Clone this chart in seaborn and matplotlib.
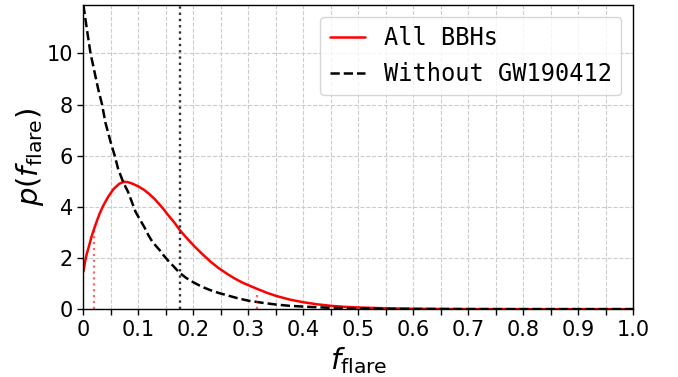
import matplotlib
matplotlib.use("Agg")
import matplotlib.pyplot as plt
import matplotlib.ticker as mticker
import seaborn as sns
import pandas as pd

# values
f_all = [0.0, 0.003, 0.006, 0.01, 0.015, 0.02, 0.025, 0.03, 0.035, 0.04, 0.045,
         0.05, 0.055, 0.06, 0.065, 0.07, 0.075, 0.08, 0.085, 0.09, 0.1, 0.11,
         0.12, 0.13, 0.139, 0.147, 0.154, 0.165, 0.175, 0.187, 0.2, 0.215,
         0.23, 0.245, 0.26, 0.275, 0.29, 0.315, 0.335, 0.35, 0.376, 0.4,
         0.425, 0.45, 0.475, 0.5, 0.55, 0.6, 0.65, 0.7, 0.8, 1.0]
p_all = [1.47, 1.85, 2.15, 2.45, 2.85, 3.17, 3.48, 3.76, 4.0, 4.2, 4.39,
         4.55, 4.7, 4.8, 4.9, 4.95, 4.98, 4.97, 4.94, 4.9, 4.8, 4.67,
         4.5, 4.3, 4.08, 3.88, 3.68, 3.4, 3.1, 2.8, 2.5, 2.18,
         1.88, 1.62, 1.4, 1.2, 1.03, 0.8, 0.63, 0.52, 0.37, 0.27,
         0.19, 0.13, 0.09, 0.065, 0.032, 0.015, 0.007, 0.003, 0.0, 0.0]

f_wo = [0.0, 0.006, 0.013, 0.02, 0.027, 0.034, 0.04, 0.045, 0.05, 0.057,
        0.063, 0.07, 0.075, 0.081, 0.088, 0.095, 0.103, 0.111, 0.118, 0.125,
        0.132, 0.139, 0.146, 0.154, 0.165, 0.175, 0.187, 0.2, 0.215, 0.23,
        0.245, 0.26, 0.28, 0.3, 0.325, 0.35, 0.375, 0.4, 0.45, 0.5, 0.55,
        0.6, 0.7, 0.8, 1.0]
p_wo = [11.9, 11.0, 10.0, 9.3, 8.6, 8.0, 7.3, 6.9, 6.5, 6.0,
        5.5, 5.1, 4.85, 4.6, 4.2, 3.8, 3.5, 3.2, 2.9, 2.65,
        2.47, 2.3, 2.1, 1.9, 1.65, 1.42, 1.22, 1.05, 0.88, 0.75,
        0.64, 0.55, 0.43, 0.33, 0.25, 0.18, 0.13, 0.1, 0.05, 0.025, 0.012,
        0.006, 0.001, 0.0, 0.0]

# interval markers
red_lines_x = [0.02, 0.315]
red_lines_top = [3.17, 0.6]
median_wo = 0.175

df_all = pd.DataFrame({"f": f_all, "p": p_all})
df_wo = pd.DataFrame({"f": f_wo, "p": p_wo})

sns.set_style("white")
plt.rcParams['font.family'] = ['DejaVu Sans']
plt.rcParams['text.color'] = 'black'
plt.rcParams['axes.labelcolor'] = 'black'
plt.rcParams['xtick.color'] = 'black'
plt.rcParams['ytick.color'] = 'black'

fig = plt.figure(figsize=(6.78, 3.77), dpi=100)
ax = fig.add_axes([0.123, 0.180, 0.811, 0.807])

sns.lineplot(data=df_all, x="f", y="p", color="red", lw=1.8, label="All BBHs", ax=ax)
sns.lineplot(data=df_wo, x="f", y="p", color="black", lw=1.8, linestyle="--",
             label="Without GW190412", ax=ax)

for xv, top in zip(red_lines_x, red_lines_top):
    ax.plot([xv, xv], [0, top], color="red", ls=":", lw=1.6, alpha=0.6)
ax.axvline(median_wo, color="#333333", ls=":", lw=1.7)

ax.set_xlim(0, 1)
ax.set_ylim(0, 11.9)
ax.xaxis.set_major_locator(mticker.MultipleLocator(0.1))
ax.xaxis.set_minor_locator(mticker.MultipleLocator(0.05))
ax.yaxis.set_major_locator(mticker.MultipleLocator(2))
ax.xaxis.set_major_formatter(mticker.FuncFormatter(lambda v, _: "0" if v == 0 else f"{v:.1f}"))

ax.tick_params(axis="both", which="both", direction="out", labelsize=15,
               length=4, width=1, color="black", bottom=True, left=True)
ax.grid(True, which="both", axis="x", ls="--", color="#cccccc", lw=0.8)
ax.grid(True, which="major", axis="y", ls="--", color="#cccccc", lw=0.8)

for s in ax.spines.values():
    s.set_color("black")
    s.set_linewidth(1.0)

ax.set_xlabel(r"$f_{\rm flare}$", fontsize=21)
ax.set_ylabel(r"$p(f_{\rm flare})$", fontsize=21, labelpad=0)

ax.legend(loc="upper right", prop={"family": "DejaVu Sans Mono", "size": 17},
          frameon=True, borderaxespad=0.5, handlelength=1.5)

fig.savefig("out.png", dpi=100)
